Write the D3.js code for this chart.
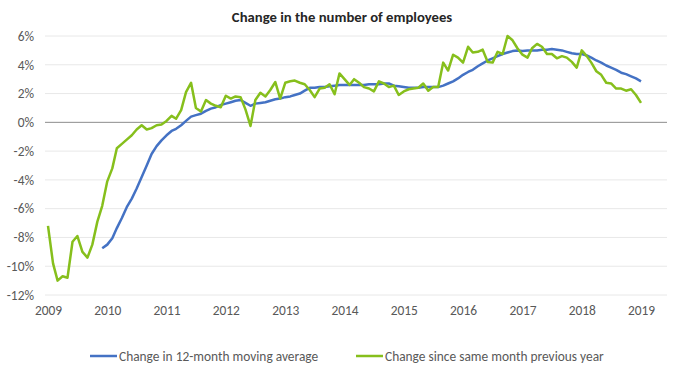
<!DOCTYPE html>
<html><head><meta charset="utf-8">
<script src="https://cdn.jsdelivr.net/npm/d3@7"></script>
<style>
body{margin:0;background:#fff;}
svg{display:block;font-family:Carlito,Lato,"Liberation Sans",sans-serif;}
</style></head>
<body>
<svg id="c" width="684" height="378"></svg>
<script>
const title = "Change in the number of employees";
const seriesNames = ["Change in 12-month moving average", "Change since same month previous year"];
const xTickLabels = ["2009","2010","2011","2012","2013","2014","2015","2016","2017","2018","2019"];
const yTicks = [-12,-10,-8,-6,-4,-2,0,2,4,6];
// monthly values, first green value = Jan 2009, first blue value = Dec 2009
const greenStart = [2009, 0];
const greenValues = [-7.2,-9.8,-11.0,-10.7,-10.8,-8.3,-7.9,-9.0,-9.4,-8.5,-6.9,-5.8,
 -4.1,-3.2,-1.8,-1.5,-1.2,-0.9,-0.5,-0.2,-0.5,-0.4,-0.2,-0.15,
 0.1,0.45,0.25,0.85,2.1,2.75,1.0,0.75,1.55,1.3,1.15,1.05,
 1.85,1.65,1.8,1.75,0.9,-0.25,1.55,2.05,1.8,2.25,2.8,1.65,
 2.75,2.85,2.9,2.75,2.65,2.25,1.75,2.35,2.4,2.65,1.95,3.4,
 3.0,2.6,3.0,2.75,2.45,2.35,2.15,2.85,2.7,2.45,2.55,1.9,
 2.15,2.3,2.35,2.4,2.7,2.2,2.45,2.45,4.15,3.6,4.7,4.5,
 4.15,5.25,4.85,4.9,5.05,4.2,4.15,4.9,4.75,6.0,5.7,5.15,
 4.7,4.5,5.15,5.45,5.25,4.75,4.75,4.45,4.6,4.5,4.2,3.8,
 5.0,4.6,4.15,3.55,3.3,2.75,2.7,2.35,2.35,2.2,2.3,1.9,
 1.35];
const blueStart = [2009, 11];
const blueValues = [-8.75,
 -8.5,-8.05,-7.35,-6.65,-5.9,-5.3,-4.6,-3.8,-3.0,-2.2,-1.65,-1.25,
 -0.9,-0.6,-0.45,-0.2,0.1,0.4,0.5,0.6,0.8,0.95,1.05,1.2,
 1.3,1.4,1.5,1.55,1.35,1.15,1.3,1.35,1.4,1.5,1.6,1.65,
 1.75,1.8,1.9,2.0,2.2,2.4,2.4,2.45,2.45,2.5,2.55,2.6,
 2.6,2.6,2.6,2.6,2.6,2.65,2.65,2.65,2.7,2.7,2.55,2.5,
 2.45,2.4,2.4,2.4,2.45,2.45,2.45,2.45,2.55,2.7,2.85,3.05,
 3.3,3.5,3.65,3.9,4.1,4.3,4.45,4.6,4.75,4.85,4.95,5.0,
 4.95,5.0,5.0,5.0,5.05,5.05,5.1,5.05,5.0,4.9,4.8,4.75,
 4.75,4.65,4.5,4.3,4.15,3.95,3.8,3.65,3.45,3.35,3.2,3.05,
 2.85];
const colors = ["#4472C4", "#86BF1C"];

const toDate = (start, i) => new Date(start[0], start[1] + i, 1);
const green = greenValues.map((v,i)=>({d:toDate(greenStart,i), v}));
const blue = blueValues.map((v,i)=>({d:toDate(blueStart,i), v}));

const svg = d3.select("#c");
const plotL = 45, plotR = 667;
const fs = 13.4;
const x = d3.scaleTime()
  .domain([new Date(2009,0,1), new Date(2019,0,1)])
  .range([48, 641]);
const y = d3.scaleLinear().domain([-12, 6]).range([295, 36]);

svg.append("text").attr("x", 342).attr("y", 22).attr("text-anchor","middle")
  .attr("font-size", 14.7).attr("font-weight","bold").attr("fill","#262626").text(title);

// gridlines
svg.append("g").selectAll("line").data(yTicks.filter(t=>t!==0)).join("line")
  .attr("x1", plotL).attr("x2", plotR)
  .attr("y1", d=>y(d)).attr("y2", d=>y(d))
  .attr("stroke", "#e8e8e8").attr("stroke-width", 1);

// y axis labels
const yAxis = d3.axisLeft(y).tickValues(yTicks).tickSize(0).tickPadding(0)
  .tickFormat(d=>d+"%");
const gy = svg.append("g").attr("transform", `translate(34,0)`).call(yAxis);
gy.select(".domain").remove();
gy.selectAll("text").attr("font-size", fs).attr("fill", "#595959")
  .attr("font-family","Carlito,Lato,'Liberation Sans',sans-serif");

// x axis labels
const xTickDates = xTickLabels.map(s=>new Date(+s,0,1));
const xAxis = d3.axisBottom(x).tickValues(xTickDates).tickSize(0).tickPadding(0)
  .tickFormat((d,i)=>xTickLabels[i]);
const gx = svg.append("g").attr("transform", `translate(0,305)`).call(xAxis);
gx.select(".domain").remove();
gx.selectAll("text").attr("font-size", fs).attr("fill", "#595959")
  .attr("font-family","Carlito,Lato,'Liberation Sans',sans-serif");

// zero line
svg.append("line").attr("x1", plotL).attr("x2", plotR)
  .attr("y1", y(0)).attr("y2", y(0)).attr("stroke", "#8c8c8c").attr("stroke-width", 1);

const line = d3.line().x(d=>x(d.d)).y(d=>y(d.v));
svg.append("path").datum(blue).attr("d", line).attr("fill","none")
  .attr("stroke", colors[0]).attr("stroke-width", 2.5).attr("stroke-linejoin","round");
svg.append("path").datum(green).attr("d", line).attr("fill","none")
  .attr("stroke", colors[1]).attr("stroke-width", 2.5).attr("stroke-linejoin","round");

// legend
const legendItems = [{x:90, name:seriesNames[0], c:colors[0]}, {x:356, name:seriesNames[1], c:colors[1]}];
const lg = svg.append("g").selectAll("g").data(legendItems).join("g")
  .attr("transform", d=>`translate(${d.x},356)`);
lg.append("line").attr("x1",0).attr("x2",27).attr("y1",0).attr("y2",0)
  .attr("stroke", d=>d.c).attr("stroke-width", 2.5);
lg.append("text").attr("x", 29).attr("y", 4.5).attr("font-size", fs).attr("fill","#595959")
  .text(d=>d.name);
</script>
</body></html>
